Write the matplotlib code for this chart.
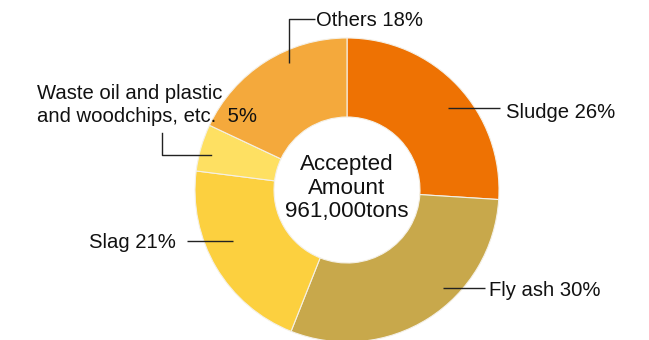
import matplotlib.pyplot as plt

# Breakdown of accepted amount by waste type
categories = ["Sludge", "Fly ash", "Slag", "Waste oil and plastic\nand woodchips, etc. ", "Others"]
shares = [26, 30, 21, 5, 18]
colors = ["#EE7203", "#C8A84B", "#FCD03F", "#FEE062", "#F4A93C"]
total_label = "Accepted\nAmount\n961,000tons"

plt.rcParams['font.family'] = ['Liberation Sans', 'DejaVu Sans']

W, H = 649, 340
fig = plt.figure(figsize=(W / 100, H / 100), dpi=100)
ax = fig.add_axes([0, 0, 1, 1])

# pixel-style coordinates, y measured from top
cx, cy = 347, 190
r_out, r_in = 152, 73

ax.pie(shares, colors=colors, startangle=90, counterclock=False,
       center=(cx, H - cy), radius=r_out,
       wedgeprops=dict(width=r_out - r_in, edgecolor="#f4f0e6", linewidth=0.8))

ax.set_xlim(0, W)
ax.set_ylim(0, H)
ax.set_aspect("equal")
ax.axis("off")

ax.text(cx, H - 188, total_label, ha="center", va="center",
        fontsize=16.1, linespacing=1.14, color="#111111")

fs = 14.6
lc = "#222222"

def label(text, xy_text, path, ha="left"):
    xs = [p[0] for p in path]
    ys = [H - p[1] for p in path]
    ax.plot(xs, ys, color=lc, lw=1.0, solid_capstyle="butt")
    ax.text(xy_text[0], H - xy_text[1], text, ha=ha, va="center",
            fontsize=fs, color="#111111")

label(f"{categories[0]} {shares[0]}%", (506, 112), [(448, 108), (500, 108)])
label(f"{categories[1]} {shares[1]}%", (489, 291), [(443, 288), (485, 288)])
label(f"{categories[2]} {shares[2]}%", (176, 242), [(187, 241), (233, 241)], ha="right")
label(f"{categories[4]} {shares[4]}%", (316, 20), [(289, 63), (289, 19), (315, 19)])

ax.plot([162, 162, 211], [H - 133, H - 155, H - 155], color=lc, lw=1.0)
ax.text(37, H - 105, f"{categories[3]} {shares[3]}%", ha="left", va="center",
        fontsize=fs, color="#111111", linespacing=1.3)

fig.savefig("out.png", dpi=100)
